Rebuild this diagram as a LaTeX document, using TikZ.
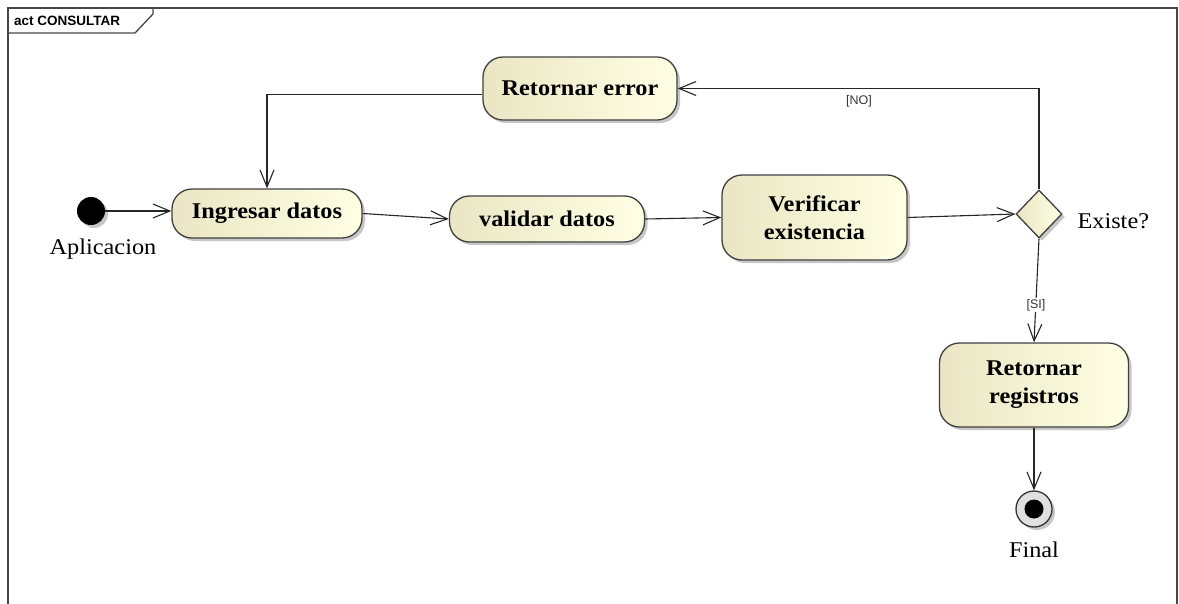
\documentclass[tikz,border=0pt]{standalone}
\usepackage{fontspec}
\setmainfont[FakeStretch=1.08]{Liberation Serif}
\newfontfamily\labelsans{Liberation Sans}
\usetikzlibrary{arrows.meta,shapes.geometric,shadows}
\definecolor{actleft}{RGB}{234,230,196}
\definecolor{actright}{RGB}{255,255,228}
\definecolor{framegray}{RGB}{70,70,70}
\begin{document}
\begin{tikzpicture}[x=1pt,y=-1pt,
  softshadow/.style={drop shadow={shadow xshift=3pt,shadow yshift=-3pt,fill=black!40,opacity=.55}},
  actbox/.style={draw=black!75, line width=1.3pt, rounded corners=20pt,
    left color=actleft, right color=actright, softshadow,
    font=\bfseries\fontsize{22.5}{28}\selectfont, align=center, inner sep=0pt},
  decision/.style={diamond, draw=black!75, line width=1.3pt,
    left color=actleft, right color=actright, softshadow,
    minimum width=46pt, minimum height=48pt, inner sep=0pt},
  startnode/.style={circle, fill=black, minimum size=28pt, inner sep=0pt, softshadow},
  endnode/.style={circle, draw=black!80, line width=1.3pt, fill=black!12,
    minimum size=36pt, inner sep=0pt, softshadow},
  flow/.style={draw=black!85, line width=1.1pt,
    -{Straight Barb[length=17pt,width=14pt,line width=1.1pt]}},
  guard/.style={font=\labelsans\fontsize{12.5}{14}\selectfont, text=black!80},
  caption/.style={font=\fontsize{22.5}{26}\selectfont}]

\useasboundingbox (0,0) rectangle (1179,603);

% diagram frame with its name tab
\draw[framegray, line width=1.6pt] (8,610) -- (8,8) -- (1177,8) -- (1177,610);
\draw[framegray, line width=1.3pt] (8,33) -- (135,33) -- (153,14) -- (153,8);
\node[font=\labelsans\bfseries\fontsize{13.5}{15}\selectfont, anchor=west, inner sep=0pt]
  (frametitle) at (14,21) {act CONSULTAR};

% nodes
\node[startnode] (ini) at (91,211) {};
\node[caption] (inilabel) at (103,249) {Aplicacion};

\node[actbox, minimum width=190pt, minimum height=49pt] (ing) at (267,213.5) {Ingresar datos};
\node[actbox, minimum width=195pt, minimum height=46pt] (val) at (547,219) {validar datos};
\node[actbox, minimum width=185pt, minimum height=85pt] (ver) at (814.5,217.5) {Verificar\\existencia};
\node[decision] (dia) at (1039,214) {};
\node[caption, anchor=west] (dialabel) at (1074,221) {Existe?};
\node[actbox, minimum width=194pt, minimum height=63pt] (err) at (580,88.5) {Retornar error};
\node[actbox, minimum width=189pt, minimum height=84pt] (reg) at (1034,385) {Retornar\\registros};

\node[endnode] (fin) at (1034,509) {};
\fill[black] (fin.center) circle[radius=9.5];
\node[caption] (finlabel) at (1034,550) {Final};

% control flows
\draw[flow] (ini.east) -- (ing.west |- ini);
\draw[flow] (ing.east) -- (val.west);
\draw[flow] (val.east) -- (ver.west);
\draw[flow] (ver.east) -- (dia.west);
\draw[flow] (dia.north) |- (err.east);
\draw[flow] ([yshift=-6pt]err.west) -| (ing.north);
\draw[flow] (dia.south) -- (reg.north);
\draw[flow] (reg.south) -- (fin.north);

% guards
\node[guard] (gno) at (859,101) {[NO]};
\node[guard, fill=white, inner sep=1pt] (gsi) at (1036,305) {[SI]};
\end{tikzpicture}
\end{document}
